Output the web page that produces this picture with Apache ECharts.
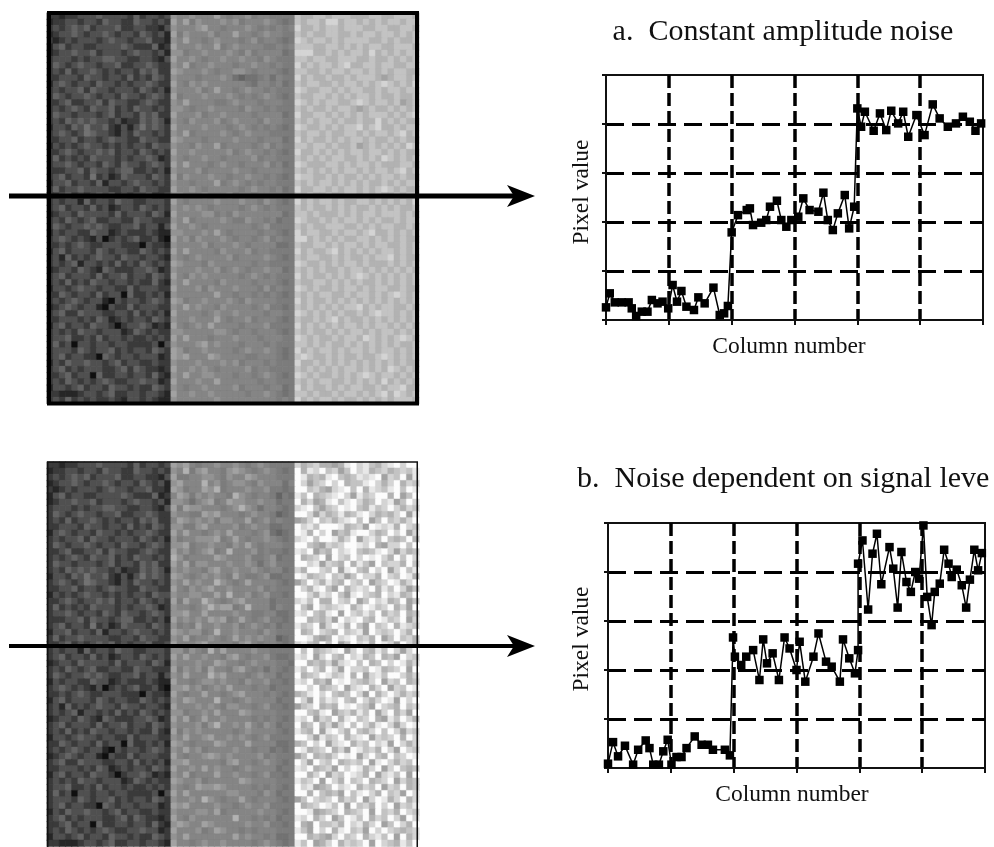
<!DOCTYPE html>
<html><head><meta charset="utf-8">
<style>html,body{margin:0;padding:0;background:#fff;overflow:hidden}#c{width:994px;height:847px;filter:blur(.5px)}</style>
<script src="https://cdn.jsdelivr.net/npm/echarts@6/dist/echarts.min.js"></script>
</head><body><div id="c"></div>
<script>
// Grey levels as hex digits, one string per image row, read by eye; greyOfDigit gives the level of each digit.
const greyOfDigit = [0,15,38,58,80,100,114,124,133,147,162,178,195,212,232,252];
const darkBand = [
"33233 44454 44435 34434","23344 34435 44335 44343","34345 45344 45334 43324","23445 43445 43443 54342","32343 44434 54434 45332",
"24534 43344 44543 33523","23445 44534 44345 44342","34443 43445 54433 44324","35434 54434 45334 45433","34353 44543 43443 54533",
"33444 35443 44353 43543","24543 44354 43434 45433","34344 53544 34443 54342","35434 45434 43544 34543","33453 34453 54433 45433",
"34345 43544 53435 44343","35443 44434 53443 54533","34354 54544 34233 54542","24435 46445 32424 64543","34543 46544 32435 44343",
"33445 34434 54433 54433","24343 45443 43434 43544","33454 34454 53443 54343","35343 43544 43434 45423","34454 34435 43544 34543",
"33344 53544 34553 34342","34534 43634 23544 43543","24453 44352 44345 44343","35344 54444 33443 54433","33453 43454 53434 45334",
"34344 25344 35443 34443","34534 43534 23443 54343","23443 54444 35344 43542","34354 34533 44335 44333","35434 45454 33445 34424",
"24344 33544 23433 34322","34543 43241 34345 33421","33434 54334 44333 14332","24534 44354 34433 54343","34253 43454 43544 34432",
"34345 24434 35343 54343","23443 54325 43334 45423","34534 44353 44534 43543","34353 43544 34434 33532","24434 54434 43353 44433",
"33543 44353 44153 34342","34345 43442 14344 34543","23454 34421 43353 44433","34533 54443 34435 34342","33444 34354 23434 43543",
"24534 43544 31344 54232","34343 54434 44235 43433","34453 34353 44343 34343","35341 44344 34433 33414","34443 54344 53434 43543",
"34534 43315 43443 44423","24354 45443 45344 33433","34534 34443 34535 43323","33453 44153 34434 43532","34354 34345 43344 54423",
"24434 53443 54434 33543","33222 34434 53344 34432","34353 43433 43244 34322"];
const midBandA = [
"98898 88a87 88978 87777","a8a79 88898 97888 98767","98889 a8878 88987 87878","a7988 89788 a8878 98877","98a88 78988 87897 88767",
"a8889 88a78 98888 77878","99788 98889 87978 88867","a8898 78898 89887 98777","98a78 89888 78898 87877","a9888 98788 99878 88767",
"98887 88898 65667 86877","a8798 98888 88768 87867","98889 78a88 78988 78777","a7888 98889 87878 98767","98a88 88778 98887 88877",
"99878 89888 87988 78777","a8889 78898 88878 88867","98798 88978 98887 98877","a8888 98887 89878 78767","98a78 88898 78988 87777",
"a9888 78888 98887 88867","98879 88a78 88878 97877","a8898 88889 78988 78767","98788 98878 88897 88777","a8a88 87898 87888 97867",
"98889 78888 98878 88877","a7988 89887 88988 78767","98878 88a78 98787 88777","a8898 78888 87898 87867","99888 98889 78878 88877",
"a8788 88988 89887 98767","98989 87888 87898 78777","a8888 99787 98888 88867","98a78 88898 77988 78677","a8898 78888 88878 97777",
"99888 98a87 88887 88767","a8979 88898 78878 97877","98888 97888 98788 88667","a8a88 88798 88978 87777","98789 88889 78888 98767",
"a9888 79888 88878 87777","98889 88978 98788 98867","a8798 98888 87898 78777","98a88 88798 88878 88767","a8889 79888 98887 97877",
"98888 88a88 78878 78767","a9788 98889 87988 88777","98a89 88798 88878 97767","a8888 78988 98888 78877","98898 88a87 88978 88767",
"a8789 8a888 87888 97777","99888 88998 78878 88767","a8a88 87888 98887 88877","98889 a8988 87888 78777","a9788 98888 78988 98767",
"a9a88 8a988 88778 88767","98889 88898 97888 78777","a8898 98788 88978 87777","98a88 99888 78878 98767","a8889 88a88 88887 88777",
"98788 98888 97888 78867","a8898 89888 88788 98767","98888 88988 88888 88787"];
const lightBandA = [
"cbbcc bcccb bbccb bcccb","cbccb ddbcc bcbcb ccbcc","dbbcb ccbcc cbbcc bbccb","cbcbb ccbbc bccbc cbcbc","dcbcc bcbcc ccbbc bcbbc",
"cccbb ccbcb cbccb bcccb","dddbb cbcbc cbdbc bcbcc","ccbcc bbccc bbcbb cbcbc","dbcbc cbcdb bccbc cbbcc","ccbbc bccbc cbcbc bccbb",
"dbcbb cbbcb cccba bccbc","cbccb bcbcc bcbcd cbcbd","dcbbc cbcbc cbbcb ccbcc","cbbcc bcbcb ccbcb bcbbc","dcbcb ccbbc dcbcc bcabc",
"cbcbb cbccb abcbb cbcbc","dbbcc bcbcb cbccc bcbcd","cbcbc cbcbb cbbdb cbcbb","dcbbc bcbcc dbcdb bcbcc","cbccb cbbcc bcbcc bcdbc",
"dbcbb cbcbc cbcbb cbcbb","ccbcc bcbbc abcbc bcbdc","dbbcb cbcbc cbccb cbcbb","cbcbc bccbb cbcbd cbcbc","dcbbb ccbcb ccbcb bbccb",
"cbcbc bcbcc bcbcc bcdbc","dccbb cbcbb cbcbc cbcbb","cbcbc cbcbc bcbbc bcbcc","dbbcc bcbcc bcbcd cbcbb","cbcbb cbbcc bcbcb bcbcc",
"dbcbc cbcbb ccbcb cbcbd","cbcbb cbcbc bbcbc bcbbc","ccbcb bbcbc bccbc ccbcb","dcbbc bcbcc bcbcb bcbcc","cbcbb cccbb cbcbc cbbcb",
"dbccb bcbcc bcdbb cbcbc","ddbcb cbcbb ccbcb cbcbb","cbbcc bcbcc bcbcc bbcbc","dbcbb cdbcb cbcbc cbcbc","cbccb bcbcb bcbcc dbcbb",
"dcbbc bcbcc bcbbb cbcbc","cbcbc bbcbc cbcbc bcbcb","dbcbb cbcbc dcbcb cbcbc","cbbcc bcbcb cbbcb cbcbc","dcbcb bcbcc bcbcc bbcbb",
"cbcbc cbbcb ccbcb cdcbc","dbcbb cbcbc bcbcb cbcbc","cbcbc bcbcc dbcbc cbbcb","dcbcb cbcbb cbcdc cbcbc","cbbcb cdbcb bcbcb cbcbc",
"dbcbc bcbcc bcbcc bcbcb","cbcbb cbcbc cbcbc cbcbc","dcbcb bcbcc bdcbc bcdcb","ccbcb cbbcb cbcbc bcbbc","dbcbc cbcbc cbcbc cbcbc",
"cdcbb cbcbb cbbcd cbcbc","dbbcb cbcbc bcbcb cbcbb","cbcbc bcbcc bcbcb dcbcb","dcbcb bcbcb cdcbc cbcbc","cbcbc cbbcb cbcbd bcbcb",
"dbcbb cbcbc cbbcb ccdbb","ccbcb bcbcc bcbcd bdcbc","dbcbc cbcbb cbcbc bcccb"];
const midBandB = [
"a9a87 88988 98789 87777","98b79 a8879 a9878 98767","a7788 99879 88a98 88777","9a888 b8978 99879 88868","a9788 a9b78 88988 97767",
"8a979 89887 b9878 87576","99868 9a78a 99889 88677","a7a99 88878 9b986 88767","98877 a9a88 87898 87567","8a989 89799 88a78 97877",
"99779 a8888 97898 86677","a8a88 7898a 88878 96567","97889 99a78 a8788 98767","99a78 89887 98a87 88877","a8978 9a78b 88897 87767",
"b9788 88a98 88977 89677","a8a79 98889 88986 89777","98988 79a88 98898 78867","a9878 98987 a8778 96677","98a89 88b98 78a88 88767",
"a8798 9a889 88889 78777","98899 88a8b 88978 97767","a7a88 b9878 9a888 86777","98878 9b9aa 78b88 86877","99a88 a8888 98877 88667",
"a8989 8a9a7 8a878 97767","9787a 88988 97898 78677","a9899 78b88 98887 98777","98a78 89878 a8989 88567","a8889 a8888 79a87 88767",
"99798 7b8a8 88898 87777","a8a88 98879 a8788 97667","98889 88a98 87898 88776","a7989 7a887 9a878 68767","98a88 8b9a8 88789 88677",
"a8878 99898 87988 97767","99a89 7898a 88878 86777","a8788 a8878 9a888 78767","98a98 88b88 78988 88677","a8889 89879 98878 97767",
"99788 98a88 8a988 88777","a8a78 a8898 88878 78767","98889 79b88 98a87 98677","a7989 88888 78988 88767","98a88 9a889 89878 97777",
"a9878 88a98 88a88 88667","98a89 78888 98878 86767","a8788 9a989 88889 78777","99a88 88879 a8878 98767","a8898 a8988 78988 88677",
"98a78 88a88 98878 97767","a9889 78888 8a988 88777","9878a 99a98 88878 78767","a8a88 88889 98887 98677","98898 b9878 8a878 88767",
"a9a88 88988 78988 97777","98889 98a78 88889 88767","a8798 88888 b8878 78677","9a988 a9888 88988 97767","a8889 78a98 87878 88777",
"98a88 88888 a8988 78667","a8878 98898 88878 98767"];
const lightBandB = [
"dbcdb babef decbd efdff","fbedf cdacf debcd bcdce","febcb efcbc edefa dcfae","fdacd fdfbc cefdb dfbdc","ffcdb adefc fbedc efcfe",
"ecfbc defda ecdff bfacf","fbdab efcef dbcfd eacfd","defca cdfef cbecd fdbdc","ffdad bcebc efdbc bdfae","abdfc dbdef cfacf cdbdf",
"fdecf ffebc dafed ebfdc","febfd facbe ffdbc fdfad","defcf febdf adecf cbcfb","ffcba dcdff edfba ddfcf","edfac bfdef cbcef dadbc",
"fbcdf afdcf dfefd bfcfd","ffdea dcbfb ecafc ddbfc","dbffd cfaef cbfdf adfce","febcd fcdac fddbf dcfeb","acfdb ecbfd cfacd febdf",
"fdbef cafbd edfbe cfdac","ffdbe dfcae fdcbf debcf","decfb bfdcf acfde bcfac","fcafd cdefb dfecd fbdaf","edfcb efafd cecfb dcfbc",
"ffbcb dafde fcbfe cdfad","ecdfa dfebf cafcd fbedc","fbcfd cbfcd eafdc dfdbf","ffeba bfdef cdbfa cfcdb","decbf cfacf debfe dafdb",
"fcfbc defad fcbec fdadf","edfad fcbfd ebcfb cafdc","ffbcb dadef cfbcf dfebd","ecfdb fdafd dcfeb cdfaf","fbcdf ecdfb fadec ffdbd",
"edfbc afefd cbdfa dcfbc","ffdfb cdfad efbdf adcfe","bcefd fcbcf dafbd fdbdc","fdafc edfcb fdbdf eafdf","acdfb cbfef dcafd cbfcd",
"ffcbe facdb ecfad fbdaf","edfad cfbef cdfba ecfdb","fbcfb dadfc fdbef dadfe","ecbfa efdbf cbdfc fdadc","ffdae cdfbd efadc dfbfd",
"bcfdf adefb dcfde afdbd","febcd fbdaf ecdbf dafdc","acfbc bdfef adfcb fcdfe","fdafd cfbcd cfaef dbdcf","edfbc dafdf ebdfa dfcbc",
"ffbdf adcfe dbfad ecfaf","ecdfa fdbfc dfbcd fadbc","fdeab cfdef bdcfa dcfbc","ffbfc bcafc efdbf cdafd","acfdc dfbdc fadfe bdfbd",
"fbcdf ecfaf cdbfd fadce","ffeab cdfbc dfafc dbfdc","edfbd facfe cfbdc fdafd","fbafc cdbfd ebdfa cfdbf","ecafd fbefc dafdf dcbcd",
"ffbcb adfcd fbdec fafbd","ecfab dfbdc dfafd cbecf"];

// Line charts: column number, pixel value.
const colsA = [0,0.6,1.4,2.5,3.6,4.1,4.8,5.7,6.6,7.3,8.2,9,9.9,10.6,11.3,12,12.8,14,14.7,15.7,17.1,18.1,18.8,19.4,20,21,22.4,22.9,23.4,24.7,25.5,26.1,27.2,27.9,28.7,29.5,30.6,31.4,32.4,33.8,34.6,35.3,36.1,36.9,38,38.7,39.5,40,40.6,41.2,42.6,43.6,44.6,45.4,46.5,47.3,48.1,49.4,50.7,52,53.1,54.4,55.7,56.8,57.9,58.8,59.7];
const valsA = [12.9,27.2,18,18,18,11.9,4.1,8.5,8.5,20.4,17,18.7,11.9,35.7,18.7,29.6,13.6,10.2,23.1,17,33,5.1,6.8,14.3,89.4,107,112.2,113.9,96.9,99.3,102,115.6,121.7,102,95.2,102,105.4,124.1,112.2,110.5,129.9,102,91.8,108.8,127.5,93.5,115.6,215.9,197.2,212.5,193.1,210.8,193.8,213.5,200.6,212.5,187,209.1,188.7,220,205.7,197.2,200.6,207.4,202.3,193.1,200.6];
const colsB = [0,0.8,1.6,2.7,4,4.8,6,6.6,7.2,8.1,8.8,9.5,10.1,10.9,11.7,12.5,13.8,14.9,15.9,16.7,18.6,19.4,19.9,20.2,21.2,22,23.1,24.1,24.7,25.3,26.2,27.2,28.1,28.9,30,30.5,31.4,32.7,33.5,34.7,35.6,36.9,37.4,38.4,39.3,39.8,39.8,40.5,41.4,42.1,42.8,43.5,44.8,45.4,46.1,46.7,47.5,48.2,48.9,49.5,50.2,50.8,51.5,52,52.8,53.5,54.2,54.7,55.5,56.3,57,57.6,58.3,58.9,59.5];
const valsB = [4.4,26.4,11.9,22.7,3.4,18.6,28.1,20.3,3.4,3.4,17,28.8,3.4,11.2,11.2,20.3,32.2,23.7,23.7,18.6,18.6,12.9,133.2,113.6,105.1,113.6,120.3,89.8,131.2,106.8,117,89.8,133.2,122,100,128.8,88.1,113.6,137.3,108.5,103.4,88.1,131.2,111.9,96.6,120.3,208.5,232.2,161.7,218.7,239,187.5,225.4,203.4,163.7,220.4,189.8,179.7,200,193.2,247.5,174.6,145.8,179.7,188.1,222.7,208.5,194.9,202.4,186.5,163.7,192.2,222.7,201.7,219.3];

const titleA = "a.  Constant amplitude noise";
const titleB = "b.  Noise dependent on signal leve";
const xName = "Column number";
const yName = "Pixel value";

const indices = n => Array.from({length:n},(_,i)=>String(i));
function cells(parts, rows){
  const out=[];
  for(let r=0;r<rows;r++){
    const s = parts.map(p=>p[r]).join('').replace(/ /g,'');
    for(let c=0;c<s.length;c++){
      const g=greyOfDigit[parseInt(s[c],16)];
      const col='rgb('+g+','+g+','+g+')';
      out.push({value:[c,r,g],itemStyle:{color:col,borderColor:col,borderWidth:0.35}});
    }
  }
  return out;
}
const serif = '"Liberation Serif","Times New Roman",serif';
function heatAxes(g,n,rows){
  return {
    x:{type:'category',gridIndex:g,data:indices(n),show:false},
    y:{type:'category',gridIndex:g,data:indices(rows),inverse:true,show:false}
  };
}
function lineAxes(g){
  return {
    x:{type:'value',gridIndex:g,min:0,max:60,interval:10,axisLabel:{show:false},
       axisLine:{lineStyle:{color:'#111',width:2}},
       axisTick:{show:true,length:5,lineStyle:{color:'#111',width:2}},
       splitLine:{show:true,showMinLine:false,showMaxLine:false,lineStyle:{color:'#000',width:3.5,type:[13,5]}}},
    y:{type:'value',gridIndex:g,min:0,max:250,interval:50,axisLabel:{show:false},
       axisLine:{show:true,lineStyle:{color:'#111',width:2}},
       axisTick:{show:true,length:4,lineStyle:{color:'#111',width:2}},
       splitLine:{show:true,showMinLine:false,showMaxLine:false,lineStyle:{color:'#000',width:2.8,type:[18,8]}}}
  };
}
const h0=heatAxes(0,60,63),h1=heatAxes(1,60,62),l2=lineAxes(2),l3=lineAxes(3);
function lineSeries(g,xs,ys){
  return {type:'line',xAxisIndex:g,yAxisIndex:g,data:xs.map((x,i)=>[x,ys[i]]),symbol:'rect',symbolSize:8.5,
    clip:false,z:5,lineStyle:{color:'#000',width:1.5},itemStyle:{color:'#000'},animation:false};
}
function arrow(y,lw){
  return [
    {type:'line',z:20,shape:{x1:9,y1:y,x2:515,y2:y},style:{stroke:'#000',lineWidth:lw}},
    {type:'polygon',z:20,shape:{points:[[507,y-11],[535,y],[507,y+11],[514,y]]},style:{fill:'#000'}}
  ];
}
function label(text,x,y,size,rot){
  return {type:'text',z:15,x:x,y:y,rotation:rot||0,style:{text:text,fill:'#111',font:size+'px '+serif,align:'center',verticalAlign:'middle'}};
}
const chart=echarts.init(document.getElementById('c'),null,{renderer:'canvas'});
chart.setOption({
  animation:false,backgroundColor:'#fff',
  grid:[
    {left:47,top:13,width:372,height:390.6},
    {left:47,top:462,width:372,height:384.4},
    {left:606,top:75,width:377,height:245,show:true,borderColor:'#111',borderWidth:2,backgroundColor:'transparent'},
    {left:608,top:523,width:377,height:245,show:true,borderColor:'#111',borderWidth:2,backgroundColor:'transparent'}
  ],
  xAxis:[h0.x,h1.x,l2.x,l3.x],
  yAxis:[h0.y,h1.y,l2.y,l3.y],
  series:[
    {type:'heatmap',xAxisIndex:0,yAxisIndex:0,data:cells([darkBand,midBandA,lightBandA],63),progressive:0,animation:false},
    {type:'heatmap',xAxisIndex:1,yAxisIndex:1,data:cells([darkBand,midBandB,lightBandB],62),progressive:0,animation:false},
    lineSeries(2,colsA,valsA),
    lineSeries(3,colsB,valsB)
  ],
  graphic:{elements:[
    {type:'rect',z:18,shape:{x:49,y:13,width:368,height:390.5},style:{fill:'none',stroke:'#000',lineWidth:4}},
    {type:'rect',z:18,shape:{x:47.75,y:462,width:369.5,height:400},style:{fill:'none',stroke:'#111',lineWidth:1.5}},
    ...arrow(196,5),...arrow(646,4),
    label(titleA,783,32,30),
    {type:'text',z:15,x:577,y:479,style:{text:titleB,fill:'#111',font:'30px '+serif,align:'left',verticalAlign:'middle'}},
    label(xName,789,347,23.5),
    label(xName,792,795,23.5),
    label(yName,582,192,23.5,Math.PI/2),
    label(yName,582,639,23.5,Math.PI/2)
  ]}
});
</script></body></html>
